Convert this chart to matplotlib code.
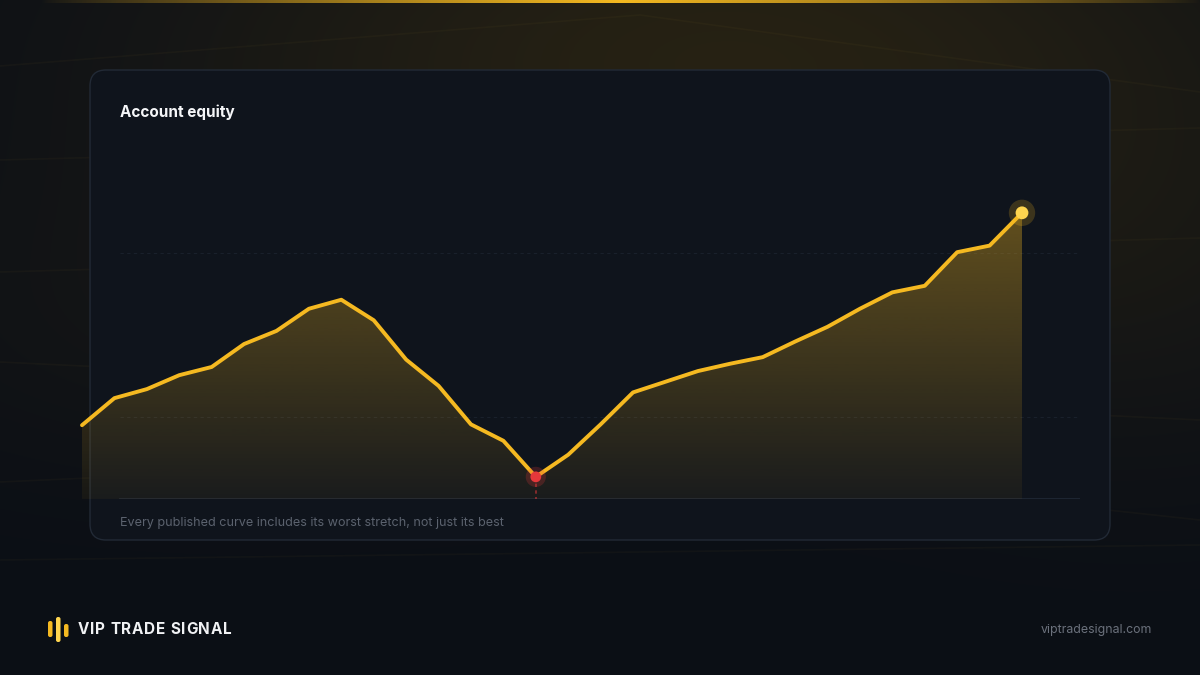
import numpy as np
import matplotlib
matplotlib.use("Agg")
import matplotlib.pyplot as plt
from matplotlib.patches import FancyBboxPatch

plt.rcParams['font.family'] = ['Inter', 'DejaVu Sans']

# equity curve (30 periods)
periods = list(range(30))
equity = [9900, 10230, 10340, 10510, 10610, 10890, 11050, 11320, 11430, 11180,
          10700, 10380, 9910, 9710, 9270, 9540, 9910, 10300, 10430, 10560,
          10650, 10730, 10920, 11100, 11320, 11520, 11600, 12010, 12090, 12490]
y_floor = 9000
y_top = 13000
grid_vals = [10000, 12000]
worst_idx = int(np.argmin(equity))

title = "Account equity"
caption = "Every published curve includes its worst stretch, not just its best"
brand = "VIP TRADE SIGNAL"
site = "viptradesignal.com"

GOLD = "#f5b921"
PALE = "#ffd54f"
RED = "#e5383b"

W, H = 1200, 675
fig = plt.figure(figsize=(12, 6.75), dpi=100)

# ---- background ----
bg = fig.add_axes([0, 0, 1, 1])
bg.set_xlim(0, W)
bg.set_ylim(H, 0)
bg.axis("off")

xx, yy = np.meshgrid(np.arange(W), np.arange(H))
base = np.array([11, 15, 22]) / 255.0
glow_col = np.array([60, 48, 18]) / 255.0
glow = np.exp(-(((xx - 720) / 560.0) ** 2 + ((yy - 60) / 240.0) ** 2)) * 0.55
glow += np.exp(-(((xx - 200) / 400.0) ** 2 + ((yy - 330) / 160.0) ** 2)) * 0.12
glow += np.exp(-(((xx - 1150) / 300.0) ** 2 + ((yy - 300) / 200.0) ** 2)) * 0.15
img = base[None, None, :] * (1 - glow[..., None]) + glow_col[None, None, :] * glow[..., None]
bg.imshow(img, extent=(0, W, H, 0), aspect="auto", zorder=0)

# faint streaks
streaks = [
    ([0, 640, 1200], [66, 15, 92]),
    ([0, 1200], [160, 128]),
    ([0, 1200], [272, 238]),
    ([0, 1200], [362, 420]),
    ([0, 600, 1200], [482, 455, 520]),
    ([0, 1200], [560, 545]),
]
for sx, sy in streaks:
    bg.plot(sx, sy, color="#c9a640", alpha=0.04, lw=1.2, zorder=1)

# gold rule at the top
bar = np.zeros((1, W, 4))
bar[..., :3] = np.array([245, 185, 33]) / 255.0
bar[0, :, 3] = np.clip(1 - np.abs(np.arange(W) - 620) / 580.0, 0, 1) ** 0.8
bg.imshow(bar, extent=(0, W, 3, 0), aspect="auto", zorder=2)

# card
card = FancyBboxPatch((90, 70), 1020, 470, boxstyle="round,pad=0,rounding_size=16",
                      facecolor="#0f141c", edgecolor="#222a36", lw=1.0, zorder=3)
bg.add_patch(card)

bg.text(120, 112, title, color="#f5f6f8", fontsize=11, fontweight="bold",
        va="center", ha="left", zorder=5)
bg.text(120, 523, caption, color="#5b626e", fontsize=9.1, va="center", ha="left", zorder=5)

# footer logo bars
for bx, by0, by1, c in [(48, 621, 637, GOLD), (56, 617, 642, PALE), (64, 624, 637, GOLD)]:
    bg.add_patch(FancyBboxPatch((bx, by0), 4.5, by1 - by0,
                                boxstyle="round,pad=0,rounding_size=2",
                                facecolor=c, edgecolor="none", zorder=5))

# letter-spaced brand name
renderer = fig.canvas.get_renderer()
cx = 78
for ch in brand:
    t = bg.text(cx, 630, ch, color="#f1f2f4", fontsize=11, fontweight="bold",
                va="center", ha="left", zorder=5)
    w = t.get_window_extent(renderer).width if ch != " " else 4.2
    cx += w + 0.7

bg.text(1152, 630, site, color="#6b717c", fontsize=8.9, va="center", ha="right", zorder=5)

# ---- chart ----
px0, px_end, px_right = 82, 1022, 1080
py_bot, py_top = 499, 171
ax = fig.add_axes([px0 / W, (H - py_bot) / H, (px_right - px0) / W, (py_bot - py_top) / H])
ax.set_facecolor("none")
ax.axis("off")
step = (px_end - px0) / (len(periods) - 1)
xmax = (px_right - px0) / step
xstart = (120 - px0) / (px_right - px0)

for g in grid_vals:
    ax.axhline(g, xmin=xstart, xmax=1, color="#19202b", lw=0.8, ls=(0, (3, 3)), zorder=1)
ax.axhline(y_floor, xmin=xstart, xmax=1, color="#1f2734", lw=1.3, zorder=2)

# gradient fill under the curve
grad = np.zeros((256, 1, 4))
grad[..., :3] = np.array([245, 185, 33]) / 255.0
grad[:, 0, 3] = np.linspace(0.05, 0.36, 256)
im = ax.imshow(grad, extent=(periods[0], periods[-1], y_floor, max(equity)),
               origin="lower", aspect="auto", zorder=2, interpolation="bilinear")
poly = ax.fill_between(periods, equity, y_floor, facecolor="none", edgecolor="none")
im.set_clip_path(poly.get_paths()[0], ax.transData)

ax.plot(periods, equity, color=GOLD, lw=2.8, solid_joinstyle="round",
        solid_capstyle="round", zorder=4, clip_on=False)

# worst point
ax.plot([periods[worst_idx]] * 2, [equity[worst_idx], y_floor], color=RED, lw=1.2,
        ls=(0, (2, 2)), alpha=0.6, zorder=3)
ax.scatter([periods[worst_idx]], [equity[worst_idx]], s=210, color=RED, alpha=0.22,
           edgecolor="none", zorder=5)
ax.scatter([periods[worst_idx]], [equity[worst_idx]], s=60, color=RED, edgecolor="none", zorder=6)

# last point
ax.scatter([periods[-1]], [equity[-1]], s=360, color=GOLD, alpha=0.2,
           edgecolor="none", zorder=5, clip_on=False)
ax.scatter([periods[-1]], [equity[-1]], s=85, color=PALE, edgecolor="none", zorder=6, clip_on=False)

ax.set_xlim(0, xmax)
ax.set_ylim(y_floor, y_top)

fig.savefig("out.png", dpi=100, facecolor=fig.get_facecolor())
